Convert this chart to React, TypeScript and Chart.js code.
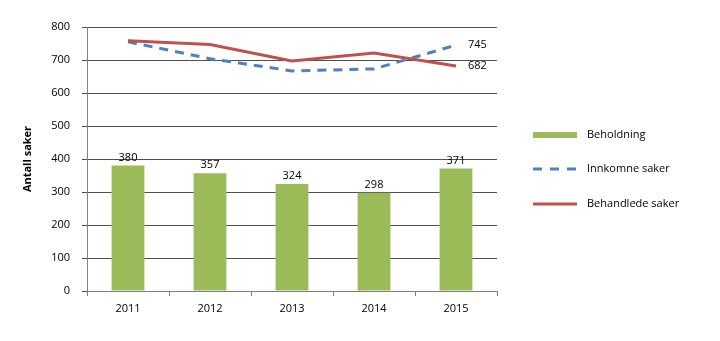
import React, { useEffect, useRef } from "react";
import { Chart, registerables } from "chart.js";

Chart.register(...registerables);

const categories = ["2011", "2012", "2013", "2014", "2015"];
const beholdning = [380, 357, 324, 298, 371];
const innkomne = [755, 704, 667, 673, 745];
const behandlede = [758, 747, 697, 721, 682];
const yTicks = [0, 100, 200, 300, 400, 500, 600, 700, 800];

const GREEN = "#9BBB59";
const BLUE = "#4F81BD";
const RED = "#C0504D";
const FONT = "'Open Sans', 'DejaVu Sans', sans-serif";

const labelsPlugin = {
  id: "customLabels",
  afterDatasetsDraw(chart: any) {
    const ctx = chart.ctx;
    ctx.save();
    ctx.font = `11px ${FONT}`;
    ctx.fillStyle = "#000";
    const barMeta = chart.getDatasetMeta(0);
    ctx.textAlign = "center";
    ctx.textBaseline = "middle";
    barMeta.data.forEach((el: any, i: number) => {
      ctx.fillText(String(beholdning[i]), el.x, el.y - 8);
    });
    ctx.textAlign = "left";
    [1, 2].forEach((di) => {
      const meta = chart.getDatasetMeta(di);
      const last = meta.data[meta.data.length - 1];
      const v = chart.data.datasets[di].data[meta.data.length - 1];
      ctx.fillText(String(v), last.x + 12, last.y);
    });
    ctx.restore();
  },
  afterDraw(chart: any) {
    const ctx = chart.ctx;
    ctx.save();
    const x0 = 533;
    const x1 = 577;
    const items = [
      { label: "Beholdning", y: 135, type: "bar" },
      { label: "Innkomne saker", y: 169, type: "dash" },
      { label: "Behandlede saker", y: 204, type: "line" },
    ];
    items.forEach((it) => {
      if (it.type === "bar") {
        ctx.fillStyle = GREEN;
        ctx.fillRect(x0, it.y - 3, x1 - x0, 6);
      } else {
        ctx.strokeStyle = it.type === "dash" ? BLUE : RED;
        ctx.lineWidth = 3;
        ctx.setLineDash(it.type === "dash" ? [9, 8] : []);
        ctx.beginPath();
        ctx.moveTo(x0, it.y);
        ctx.lineTo(x1, it.y);
        ctx.stroke();
        ctx.setLineDash([]);
      }
      ctx.fillStyle = "#000";
      ctx.font = `11px ${FONT}`;
      ctx.textAlign = "left";
      ctx.textBaseline = "middle";
      ctx.fillText(it.label, 587, it.y);
    });
    ctx.restore();
  },
};

export default function App() {
  const ref = useRef<HTMLCanvasElement | null>(null);
  useEffect(() => {
    if (!ref.current) return;
    const chart = new Chart(ref.current, {
      type: "bar",
      data: {
        labels: categories,
        datasets: [
          {
            type: "bar",
            label: "Beholdning",
            data: beholdning,
            backgroundColor: GREEN,
            barPercentage: 0.8,
            categoryPercentage: 0.5,
            order: 3,
          },
          {
            type: "line",
            label: "Innkomne saker",
            data: innkomne,
            borderColor: BLUE,
            backgroundColor: BLUE,
            borderWidth: 3,
            borderDash: [9, 7],
            pointRadius: 0,
            tension: 0,
            order: 2,
          },
          {
            type: "line",
            label: "Behandlede saker",
            data: behandlede,
            borderColor: RED,
            backgroundColor: RED,
            borderWidth: 3,
            pointRadius: 0,
            tension: 0,
            order: 1,
          },
        ] as any,
      },
      options: {
        animation: false,
        responsive: false,
        maintainAspectRatio: false,
        layout: { padding: { left: 21, right: 223, top: 27, bottom: 0 } },
        plugins: {
          legend: { display: false },
          tooltip: { enabled: false },
        },
        scales: {
          x: {
            offset: true,
            grid: {
              offset: true,
              drawOnChartArea: false,
              drawTicks: true,
              tickLength: 5,
              color: "#808080",
            },
            border: { color: "#808080", width: 1 },
            ticks: {
              color: "#000",
              font: { family: FONT, size: 11 },
              padding: 6,
            },
            afterFit(scale: any) {
              scale.height = 50;
            },
          },
          y: {
            min: 0,
            max: 800,
            afterBuildTicks(scale: any) {
              scale.ticks = yTicks.map((v) => ({ value: v }));
            },
            grid: {
              color: "#505050",
              drawTicks: true,
              tickLength: 5,
              lineWidth: 1,
            },
            border: { color: "#808080", width: 1 },
            ticks: {
              color: "#000",
              font: { family: FONT, size: 11 },
              padding: 12,
            },
            title: {
              display: true,
              text: "Antall saker",
              color: "#000",
              font: { family: FONT, size: 11, weight: "bold" },
              padding: { top: 0, bottom: 14 },
            },
            afterFit(scale: any) {
              scale.width = 66;
            },
          },
        },
      } as any,
      plugins: [labelsPlugin],
    });
    return () => chart.destroy();
  }, []);
  return (
    <div style={{ position: "fixed", left: 0, top: 0, width: 720, height: 341, background: "#fff" }}>
      <canvas ref={ref} width={720} height={341} style={{ width: 720, height: 341 }} />
    </div>
  );
}
